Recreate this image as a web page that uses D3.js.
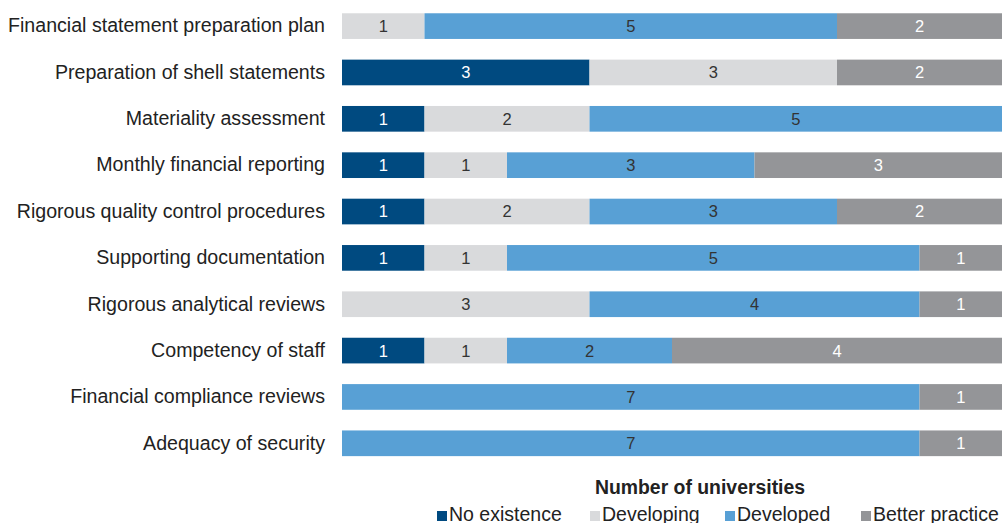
<!DOCTYPE html>
<html>
<head>
<meta charset="utf-8">
<script src="https://cdn.jsdelivr.net/npm/d3@7/dist/d3.min.js"></script>
<style>
  html, body { margin: 0; padding: 0; background: #fff; }
  svg { display: block; font-family: "Liberation Sans", Arial, sans-serif; }
</style>
</head>
<body>
<svg id="chart" width="1002" height="523"></svg>
<script>
// Practice areas assessed across universities
const categories = [
  "Financial statement preparation plan",
  "Preparation of shell statements",
  "Materiality assessment",
  "Monthly financial reporting",
  "Rigorous quality control procedures",
  "Supporting documentation",
  "Rigorous analytical reviews",
  "Competency of staff",
  "Financial compliance reviews",
  "Adequacy of security"
];

const seriesNames = ["No existence", "Developing", "Developed", "Better practice"];

// Number of universities at each maturity level, per category
const noExistence    = [0, 3, 1, 1, 1, 1, 0, 1, 0, 0];
const developing     = [1, 3, 2, 1, 2, 1, 3, 1, 0, 0];
const developed      = [5, 0, 5, 3, 3, 5, 4, 2, 7, 7];
const betterPractice = [2, 2, 0, 3, 2, 1, 1, 4, 1, 1];

const colors = ["#004a80", "#d9dadc", "#58a0d5", "#949598"];
const labelColors = ["#ffffff", "#333333", "#333333", "#ffffff"];

const rows = categories.map((c, i) => ({
  category: c,
  "No existence": noExistence[i],
  "Developing": developing[i],
  "Developed": developed[i],
  "Better practice": betterPractice[i]
}));

const svg = d3.select("#chart");
const plotLeft = 342;
const plotRight = 1002;

const x = d3.scaleLinear().domain([0, 8]).range([plotLeft, plotRight]);
const y = d3.scaleBand()
  .domain(categories)
  .range([4, 465.4])
  .paddingInner(0.446)
  .paddingOuter(0.2);

const stacked = d3.stack().keys(seriesNames)(rows);

const groups = svg.append("g")
  .selectAll("g")
  .data(stacked)
  .join("g")
  .attr("fill", (d, i) => colors[i]);

groups.selectAll("rect")
  .data(d => d)
  .join("rect")
  .attr("x", d => x(d[0]))
  .attr("y", d => y(d.data.category))
  .attr("width", d => x(d[1]) - x(d[0]))
  .attr("height", y.bandwidth());

// Segment value labels
stacked.forEach((layer, li) => {
  svg.append("g")
    .selectAll("text")
    .data(layer.filter(d => d[1] - d[0] > 0))
    .join("text")
    .attr("x", d => (x(d[0]) + x(d[1])) / 2)
    .attr("y", d => y(d.data.category) + y.bandwidth() / 2)
    .attr("dy", "0.36em")
    .attr("text-anchor", "middle")
    .attr("font-size", 16.5)
    .attr("fill", labelColors[li])
    .text(d => d[1] - d[0]);
});

// Category axis
const yAxis = d3.axisLeft(y).tickSize(0).tickPadding(17);
const yg = svg.append("g")
  .attr("transform", `translate(${plotLeft},0)`)
  .call(yAxis);
yg.select(".domain").remove();
yg.selectAll("text")
  .attr("font-size", 19.6)
  .attr("font-family", "Liberation Sans, Arial, sans-serif")
  .attr("fill", "#222");

// Axis title
svg.append("text")
  .attr("x", 700)
  .attr("y", 494)
  .attr("text-anchor", "middle")
  .attr("font-size", 19.4)
  .attr("font-weight", "bold")
  .attr("fill", "#222")
  .text("Number of universities");

// Legend
const legendX = [437, 590, 725, 861];
const legend = svg.append("g")
  .selectAll("g")
  .data(seriesNames)
  .join("g")
  .attr("transform", (d, i) => `translate(${legendX[i]},521)`);
legend.append("rect")
  .attr("x", 0)
  .attr("y", -10)
  .attr("width", 10)
  .attr("height", 10)
  .attr("fill", (d, i) => colors[i]);
legend.append("text")
  .attr("x", 12)
  .attr("y", 0)
  .attr("font-size", 19.5)
  .attr("fill", "#222")
  .text(d => d);
</script>
</body>
</html>
